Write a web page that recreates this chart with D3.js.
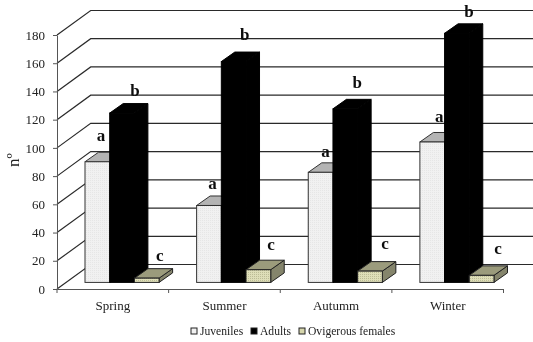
<!DOCTYPE html>
<html>
<head>
<meta charset="utf-8">
<title>Seasonal counts</title>
<script src="https://d3js.org/d3.v7.min.js"></script>
<style>
  html, body { margin: 0; padding: 0; background: #fff; }
  svg { display: block; }
  text { font-family: "Liberation Serif", serif; fill: #222; }
  .axis text { font-size: 13px; }
  .axis path, .axis line { stroke: #555; stroke-width: 1; }
  .letter { font-size: 17px; font-weight: bold; fill: #111; text-anchor: middle; }
</style>
</head>
<body>
<svg id="chart" width="533" height="342"></svg>
<script>
const seasons = ["Spring", "Summer", "Autumm", "Winter"];
const seriesNames = ["Juveniles", "Adults", "Ovigerous females"];
const juveniles = [85.5, 54.5, 78, 99.5];
const adults = [120, 156.5, 123, 176.5];
const ovigerous = [3, 9, 8, 5];
const letters = ["a", "b", "c"];
const yTicks = [0, 20, 40, 60, 80, 100, 120, 140, 160, 180];

const svg = d3.select("#chart");
const margin = {left: 57, right: 29.5, top: 35, bottom: 53};
const width = 533, height = 342;

const x = d3.scaleBand().domain(seasons).range([margin.left, width - margin.right]);
const y = d3.scaleLinear().domain([0, 180]).range([height - margin.bottom, margin.top]);

// 3d offsets: back wall of the box, and the depth of one bar
const wall = {dx: 33.7, dy: -24.5};
const depth = {dx: 13.5, dy: -9.5};
const barWidth = 24.7;
const barStart = 28;   // first bar from left of the band
const barLift = -6.6;  // bars stand a bit behind the front edge

const defs = svg.append("defs");
defs.append("filter").attr("id", "soft").append("feGaussianBlur").attr("stdDeviation", 0.35);

const dots = defs.append("pattern").attr("id", "dots").attr("width", 2).attr("height", 2)
  .attr("patternUnits", "userSpaceOnUse");
dots.append("rect").attr("width", 2).attr("height", 2).attr("fill", "#f1f1f1");
dots.append("rect").attr("width", 1).attr("height", 1).attr("fill", "#e6e6e6");

const weave = defs.append("pattern").attr("id", "weave").attr("width", 2).attr("height", 2)
  .attr("patternUnits", "userSpaceOnUse");
weave.append("rect").attr("width", 2).attr("height", 2).attr("fill", "#dedeb8");
weave.append("rect").attr("width", 1).attr("height", 1).attr("fill", "#bcbc96");

const root = svg.append("g").attr("filter", "url(#soft)");

// gridlines on the back wall and the slanted side wall
const grid = root.append("g");
grid.selectAll("path").data(yTicks).enter().append("path")
  .attr("d", d => d3.line()([
    [margin.left, y(d)],
    [margin.left + wall.dx, y(d) + wall.dy],
    [width + 2, y(d) + wall.dy]
  ]))
  .attr("fill", "none")
  .attr("stroke", "#2a2a2a")
  .attr("stroke-width", 1.2);

// axes
root.append("g").attr("class", "axis")
  .attr("transform", "translate(" + margin.left + ",0)")
  .call(d3.axisLeft(y).tickValues(yTicks).tickSize(4).tickPadding(8).tickSizeOuter(0));

const xAxis = root.append("g").attr("class", "axis")
  .attr("transform", "translate(0," + y(0) + ")")
  .call(d3.axisBottom(x).tickSize(0).tickPadding(12));
xAxis.selectAll(".tick text").attr("dy", "0.71em");
xAxis.selectAll(".edge").data(d3.range(seasons.length + 1)).enter().append("line")
  .attr("class", "edge")
  .attr("x1", i => margin.left + i * x.bandwidth())
  .attr("x2", i => margin.left + i * x.bandwidth())
  .attr("y1", 0).attr("y2", 4);

// one 3d bar = front, side, top
function drawBar(g, left, value, colors) {
  const bottom = y(0) + barLift;
  const top = y(value) + barLift;
  const right = left + barWidth;
  const line = d3.line();
  g.append("path")
    .attr("d", line([[right, top], [right + depth.dx, top + depth.dy], [right + depth.dx, bottom + depth.dy], [right, bottom]]) + "Z")
    .attr("fill", colors.side).attr("stroke", colors.stroke).attr("stroke-width", 1);
  g.append("path")
    .attr("d", line([[left, top], [left + depth.dx, top + depth.dy], [right + depth.dx, top + depth.dy], [right, top]]) + "Z")
    .attr("fill", colors.top).attr("stroke", colors.stroke).attr("stroke-width", 1);
  g.append("rect")
    .attr("x", left).attr("y", top)
    .attr("width", barWidth).attr("height", bottom - top)
    .attr("fill", colors.front).attr("stroke", colors.stroke).attr("stroke-width", 1);
}

const styles = [
  {front: "url(#dots)", top: "#b4b4b4", side: "#9a9a9a", stroke: "#333"},
  {front: "#000", top: "#000", side: "#000", stroke: "#000"},
  {front: "url(#weave)", top: "#9b9b7c", side: "#85856c", stroke: "#222"}
];
const allSeries = [juveniles, adults, ovigerous];

seasons.forEach((s, i) => {
  const g = root.append("g");
  allSeries.forEach((values, k) => {
    drawBar(g, x(s) + barStart + k * barWidth, values[i], styles[k]);
  });
});

// significance letters, nudged by hand off the bar tops
const nudge = [
  [[3.6, -21], [13, -17], [13, -17.5]],
  [[3.5, -16], [11, -21.7], [12.6, -20]],
  [[5, -15], [12, -21], [15, -21.7]],
  [[7, -20], [12, -16.6], [16.5, -21]]
];
seasons.forEach((s, i) => {
  allSeries.forEach((values, k) => {
    const cx = x(s) + barStart + k * barWidth + barWidth / 2;
    root.append("text").attr("class", "letter")
      .attr("x", cx + nudge[i][k][0])
      .attr("y", y(values[i]) + barLift + nudge[i][k][1])
      .text(letters[k]);
  });
});

// y title
root.append("text")
  .attr("transform", "translate(19,160) rotate(-90)")
  .attr("text-anchor", "middle")
  .attr("font-size", 17)
  .text("nº");

// legend
const legendX = d3.scaleOrdinal().domain(seriesNames).range([191, 251, 299]);
const legendFill = ["#f1f1f1", "#000", "#d6d6ac"];
const legend = root.append("g");
seriesNames.forEach((name, k) => {
  legend.append("rect")
    .attr("x", legendX(name)).attr("y", 328)
    .attr("width", 6).attr("height", 6)
    .attr("fill", legendFill[k]).attr("stroke", "#222").attr("stroke-width", 1);
  legend.append("text")
    .attr("x", legendX(name) + 9).attr("y", 335)
    .attr("font-size", 11.6)
    .text(name);
});
</script>
</body>
</html>
